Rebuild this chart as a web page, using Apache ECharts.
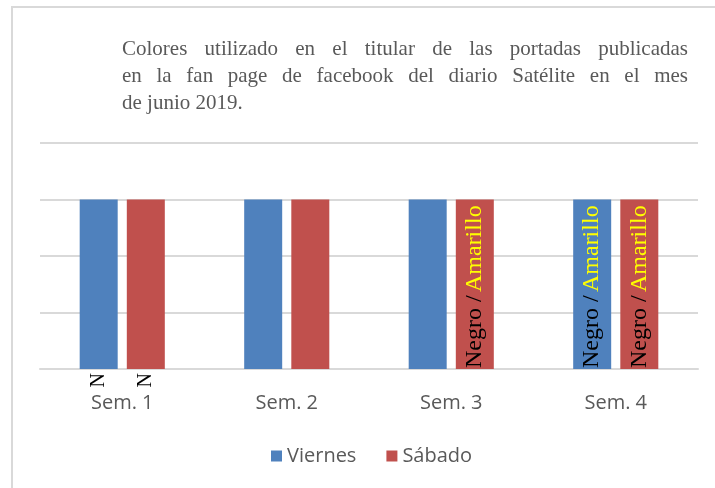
<!DOCTYPE html>
<html><head><meta charset="utf-8">
<script src="https://cdn.jsdelivr.net/npm/echarts@6/dist/echarts.min.js"></script>
<style>html,body{margin:0;padding:0;background:#fff}#c{width:715px;height:488px}</style>
</head><body><div id="c"></div>
<script>
const categories = ['Sem. 1', 'Sem. 2', 'Sem. 3', 'Sem. 4'];
const viernes = [3, 3, 3, 3];
const sabado = [3, 3, 3, 3];
const viernesLabels = ['N', '', '', 'Negro / Amarillo'];
const sabadoLabels = ['N', '', 'Negro / Amarillo', 'Negro / Amarillo'];
const titleLines = [
  'Colores utilizado en el titular de las portadas publicadas',
  'en la fan page de facebook del diario Satélite en el mes',
  'de junio 2019.'
];

const chart = echarts.init(document.getElementById('c'));
const TITLE_FONT = '21px "Liberation Serif"';
const ctx = document.createElement('canvas').getContext('2d');
ctx.font = TITLE_FONT;

function titleGraphics() {
  const left = 122, right = 688, tops = [49, 76, 103];
  const els = [];
  titleLines.forEach((line, i) => {
    const words = line.split(' ');
    const last = i === titleLines.length - 1;
    const widths = words.map(w => ctx.measureText(w).width);
    const total = widths.reduce((a, b) => a + b, 0);
    const gap = last ? ctx.measureText(' ').width : (right - left - total) / (words.length - 1);
    let x = left;
    words.forEach((w, j) => {
      els.push({type: 'text', x: x, y: tops[i], style: {text: w, font: TITLE_FONT, fill: '#595959', verticalAlign: 'middle', align: 'left'}});
      x += widths[j] + gap;
    });
  });
  return els;
}

function makeData(vals, labels) {
  return vals.map((v, i) => {
    const t = labels[i];
    if (t === 'N') {
      return {value: v, label: {show: true, formatter: 'N', position: 'insideBottom', distance: -4, rotate: 90, align: 'right', verticalAlign: 'middle', fontFamily: 'Liberation Serif', fontSize: 20, color: '#000'}};
    }
    if (t) {
      return {value: v, label: {show: true, formatter: '{a|Negro /} {b|Amarillo}', position: 'insideBottom', distance: 1, rotate: 90, align: 'left', verticalAlign: 'middle',
        rich: {a: {fontFamily: 'Liberation Serif', fontSize: 24, color: '#000'}, b: {fontFamily: 'Liberation Serif', fontSize: 24, color: '#ffff00'}}}};
    }
    return {value: v};
  });
}

chart.setOption({
  animation: false,
  graphic: [{type: 'rect', shape: {x: 12, y: 7, width: 720, height: 500}, style: {fill: 'none', stroke: '#d9d9d9', lineWidth: 2}, silent: true}].concat(titleGraphics()),
  grid: {left: 40, right: 17, top: 143, bottom: 119},
  legend: {
    left: 266, top: 441, itemWidth: 11, itemHeight: 11, itemGap: 30, icon: 'rect',
    textStyle: {fontFamily: 'Open Sans', fontSize: 20, color: '#595959'},
    data: ['Viernes', 'Sábado']
  },
  xAxis: {
    type: 'category', data: categories,
    axisLine: {lineStyle: {color: '#d9d9d9', width: 2}},
    axisTick: {show: false},
    axisLabel: {fontFamily: 'Open Sans', fontSize: 20, color: '#595959', margin: 24}
  },
  yAxis: {
    type: 'value', min: 0, max: 4, interval: 1,
    axisLabel: {show: false}, axisLine: {show: false}, axisTick: {show: false},
    splitLine: {lineStyle: {color: '#d9d9d9', width: 2}}
  },
  series: [
    {name: 'Viernes', type: 'bar', data: makeData(viernes, viernesLabels), barWidth: 38, barGap: '24%', itemStyle: {color: '#4f81bd'}},
    {name: 'Sábado', type: 'bar', data: makeData(sabado, sabadoLabels), barWidth: 38, itemStyle: {color: '#c0504d'}}
  ]
});
</script></body></html>
